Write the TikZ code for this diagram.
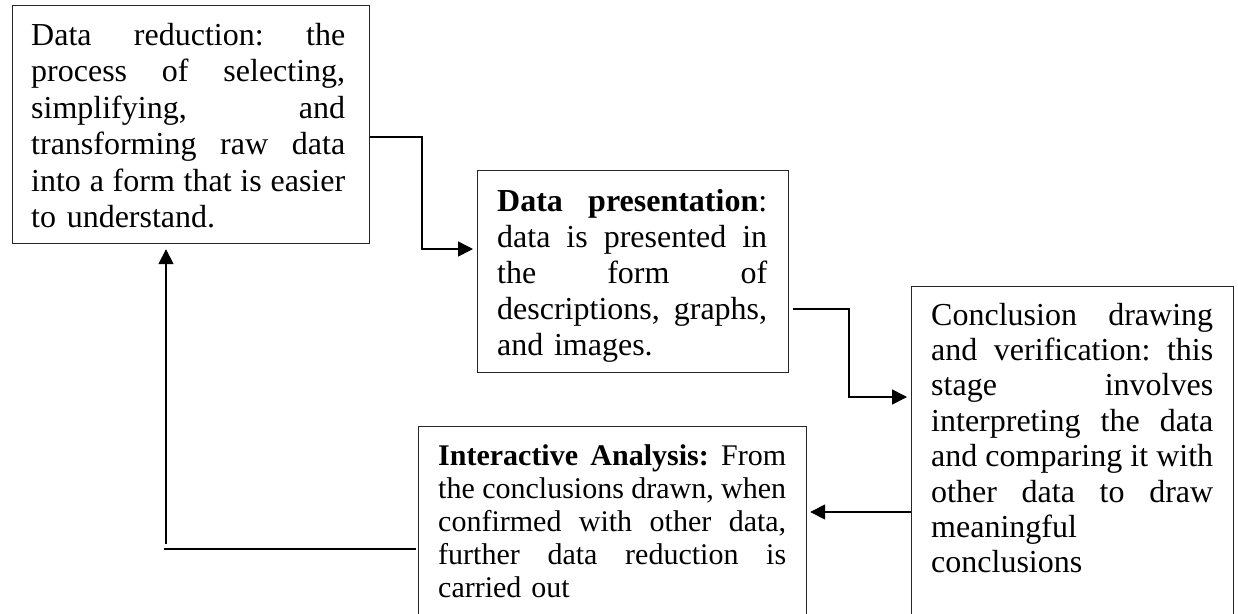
\documentclass[tikz,border=0pt]{standalone}
\usepackage{fontspec}
\setmainfont{Liberation Serif}
\usetikzlibrary{arrows.meta}
\newcommand{\J}[2]{\hbox to #1{#2}}
\newcommand{\Lf}[2]{\hbox to #1{#2\hfil}}
\begin{document}
\begin{tikzpicture}[x=1pt,y=-1pt,
  box/.style={draw=black!85, line width=1.2pt, rectangle, inner sep=0pt, anchor=north west},
  txt/.style={inner sep=0pt, anchor=north west, align=left},
  conn/.style={line width=1.6pt, black},
  arr/.style={conn, -{Triangle[length=15pt,width=15pt]}}]
\useasboundingbox (0,0) rectangle (1238,613);
\fill[white] (0,0) rectangle (1238,613);
\clip (0,0) rectangle (1238,613);
% boxes
\node[box, minimum width=357pt, minimum height=238pt] (b1) at (12,5) {};
\node[box, minimum width=311pt, minimum height=202pt] (b2) at (477,170) {};
\node[box, minimum width=322pt, minimum height=360pt] (b3) at (911,286) {};
\node[box, minimum width=388pt, minimum height=220pt] (b4) at (418,426) {};
% texts
\node[txt, text width=314pt, font=\fontsize{32}{36.5}\selectfont] (t1) at (31,19.45) {%
\J{314pt}{\strut Data\hfill reduction:\hfill the}
\J{314pt}{process\hfill of\hfill selecting,}
\J{314pt}{simplifying,\hfill and}
\J{314pt}{transforming\hfill raw\hfill data}
\J{314pt}{into\hfill a\hfill form\hfill that\hfill is\hfill easier}
\Lf{314pt}{to understand.}};
\node[txt, text width=270pt, font=\fontsize{32}{36}\selectfont] (t2) at (497,185.8) {%
\J{270pt}{\strut\textbf{Data\hfill presentation}:}
\J{270pt}{data\hfill is\hfill presented\hfill in}
\J{270pt}{the\hfill form\hfill of}
\J{270pt}{descriptions,\hfill graphs,}
\Lf{270pt}{and images.}};
\node[txt, text width=282pt, font=\fontsize{32}{35.4}\selectfont] (t3) at (931,300.2) {%
\J{282pt}{\strut Conclusion\hfill drawing}
\J{282pt}{and\hfill verification:\hfill this}
\J{282pt}{stage\hfill involves}
\J{282pt}{interpreting\hfill the\hfill data}
\J{282pt}{and\hfill comparing\hfill it\hfill with}
\J{282pt}{other\hfill data\hfill to\hfill draw}
\Lf{282pt}{meaningful}
\Lf{282pt}{conclusions}};
\node[txt, text width=348pt, font=\fontsize{30}{33}\selectfont] (t4) at (438,441.9) {%
\J{348pt}{\strut\textbf{Interactive\hfill Analysis:}\hfill From}
\J{348pt}{the\hfill conclusions\hfill drawn,\hfill when}
\J{348pt}{confirmed\hfill with\hfill other\hfill data,}
\J{348pt}{further\hfill data\hfill reduction\hfill is}
\Lf{348pt}{carried out}};
% connectors
\coordinate (k1) at (422,137);
\coordinate (k2) at (422,249);
\draw[arr, shorten >=4pt] (b1.east |- k1) -- (k1) -- (k2) -- (b2.west |- k2);
\coordinate (k3) at (849,309);
\coordinate (k4) at (849,397);
\draw[arr, shorten <=4pt, shorten >=4pt] (b2.east |- k3) -- (k3) -- (k4) -- (b3.west |- k4);
\coordinate (k5) at (0,512);
\draw[arr, shorten >=3pt] (b3.west |- k5) -- (b4.east |- k5);
\coordinate (k6) at (164,549);
\draw[conn, shorten <=2pt] (b4.west |- k6) -- (k6);
\coordinate (k7) at (166,544);
\draw[arr, shorten >=5pt] (k7) -- (b1.south -| k7);
\end{tikzpicture}
\end{document}
